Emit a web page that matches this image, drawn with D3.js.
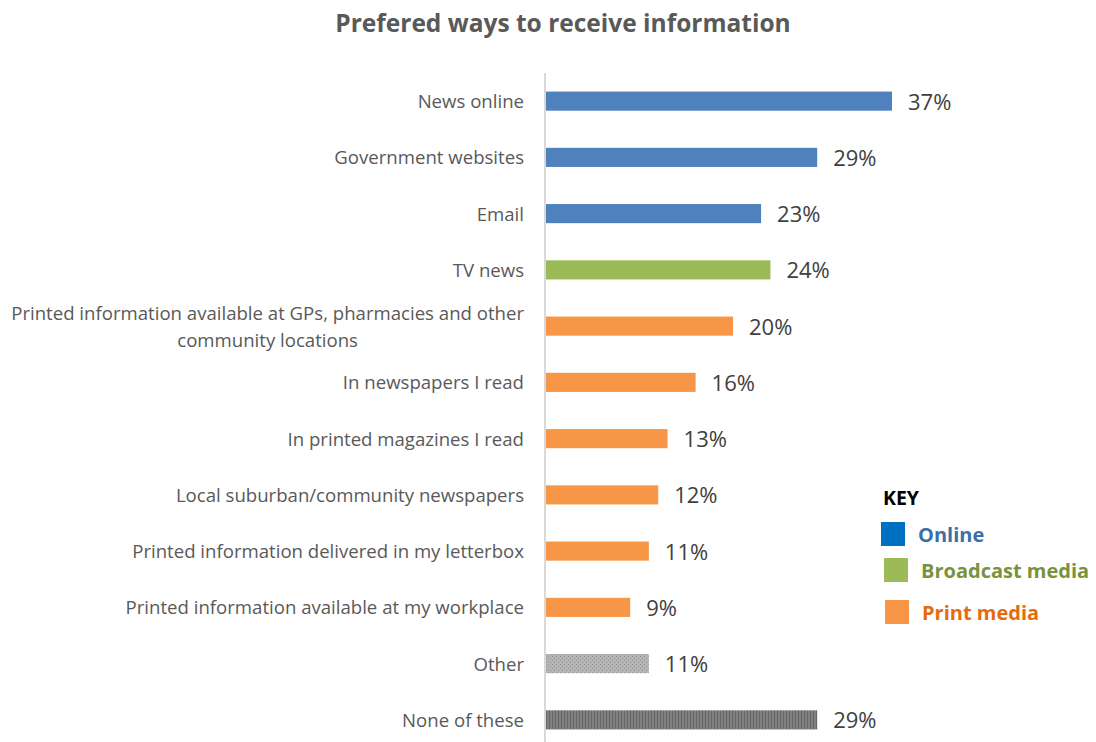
<!DOCTYPE html>
<html>
<head>
<meta charset="utf-8">
<script src="https://cdn.jsdelivr.net/npm/d3@7"></script>
<style>
  html, body { margin: 0; padding: 0; background: #fff; }
  svg { display: block; }
</style>
</head>
<body>
<svg id="chart" width="1096" height="742"></svg>
<script>
// Survey responses, in display order
const categories = [
  "News online",
  "Government websites",
  "Email",
  "TV news",
  "Printed information available at GPs, pharmacies and other|community locations",
  "In newspapers I read",
  "In printed magazines I read",
  "Local suburban/community newspapers",
  "Printed information delivered in my letterbox",
  "Printed information available at my workplace",
  "Other",
  "None of these"
];
const values = [37, 29, 23, 24, 20, 16, 13, 12, 11, 9, 11, 29];
const groups = ["online", "online", "online", "broadcast", "print", "print", "print", "print", "print", "print", "other", "none"];

const legendKeys = ["Online", "Broadcast media", "Print media"];
const title = "Prefered ways to receive information";

const fills = {
  online: "#4F81BD",
  broadcast: "#9BBB59",
  print: "#F79646",
  other: "url(#dots)",
  none: "url(#stripes)"
};

const svg = d3.select("#chart");
const font = "'Open Sans', sans-serif";

// Fill patterns for the two grey bars
const defs = svg.append("defs");
const dots = defs.append("pattern").attr("id", "dots")
  .attr("patternUnits", "userSpaceOnUse").attr("width", 4).attr("height", 4);
dots.append("rect").attr("width", 4).attr("height", 4).attr("fill", "#B4B4B4");
dots.append("rect").attr("x", 0).attr("y", 0).attr("width", 1).attr("height", 1).attr("fill", "#969696");
dots.append("rect").attr("x", 2).attr("y", 2).attr("width", 1).attr("height", 1).attr("fill", "#969696");
const stripes = defs.append("pattern").attr("id", "stripes")
  .attr("patternUnits", "userSpaceOnUse").attr("width", 3).attr("height", 6);
stripes.append("rect").attr("width", 3).attr("height", 6).attr("fill", "#808080");
stripes.append("rect").attr("x", 0).attr("width", 1).attr("height", 6).attr("fill", "#666666");

const x0 = 546;
const x = d3.scaleLinear().domain([0, 37]).range([x0, 892]);
const y = d3.scaleBand().domain(d3.range(categories.length))
  .range([73, 748]).paddingInner(0.66).paddingOuter(0.33);

// Title
svg.append("text")
  .attr("x", 563).attr("y", 32)
  .attr("text-anchor", "middle")
  .attr("font-family", font).attr("font-size", 24.5).attr("font-weight", "bold")
  .attr("fill", "#595959")
  .text(title);

// Category axis line
svg.append("line")
  .attr("x1", 545).attr("x2", 545).attr("y1", 73).attr("y2", 742)
  .attr("stroke", "#D9D9D9").attr("stroke-width", 2);

// Bars
svg.append("g").selectAll("rect").data(values).join("rect")
  .attr("x", x0)
  .attr("y", (d, i) => y(i))
  .attr("width", d => x(d) - x0)
  .attr("height", y.bandwidth())
  .attr("fill", (d, i) => fills[groups[i]]);

// Value labels
svg.append("g").selectAll("text").data(values).join("text")
  .attr("x", d => x(d) + 16)
  .attr("y", (d, i) => y(i) + y.bandwidth() / 2 + 8.5)
  .attr("font-family", font).attr("font-size", 22)
  .attr("fill", "#404040")
  .text(d => d + "%");

// Category labels (| marks a line break)
const lab = svg.append("g").selectAll("text").data(categories).join("text")
  .attr("font-family", font).attr("font-size", 18.6)
  .attr("fill", "#595959");
lab.each(function (d, i) {
  const lines = d.split("|");
  const cy = y(i) + y.bandwidth() / 2;
  const lh = 27;
  const t = d3.select(this);
  lines.forEach((s, k) => {
    const off = (k - (lines.length - 1) / 2) * lh;
    t.append("tspan")
      .attr("x", 524)
      .attr("y", cy + off + 7)
      .attr("text-anchor", lines.length > 1 && k === 1 ? "middle" : "end")
      .text(s);
  });
});
// centre the second line of the wrapped label under the first
lab.filter(d => d.includes("|")).each(function () {
  const spans = d3.select(this).selectAll("tspan").nodes();
  const first = spans[0].getComputedTextLength();
  d3.select(spans[1]).attr("x", 524 - first / 2);
});

// Legend
const legend = svg.append("g");
legend.append("text")
  .attr("x", 883).attr("y", 505)
  .attr("font-family", font).attr("font-size", 19.5).attr("font-weight", "bold")
  .attr("fill", "#000")
  .text("KEY");
const legendSwatch = ["#0070C0", "#9BBB59", "#F79646"];
const legendText = ["#3C6EA8", "#77933C", "#E46C0A"];
const legendY = [522, 558, 600];
const legendX = [881, 884, 885];
legendKeys.forEach((k, i) => {
  legend.append("rect")
    .attr("x", legendX[i]).attr("y", legendY[i])
    .attr("width", 24).attr("height", 24)
    .attr("fill", legendSwatch[i]);
  legend.append("text")
    .attr("x", legendX[i] + 37).attr("y", legendY[i] + 20)
    .attr("font-family", font).attr("font-size", 20).attr("font-weight", "bold")
    .attr("fill", legendText[i])
    .text(k);
});
</script>
</body>
</html>
